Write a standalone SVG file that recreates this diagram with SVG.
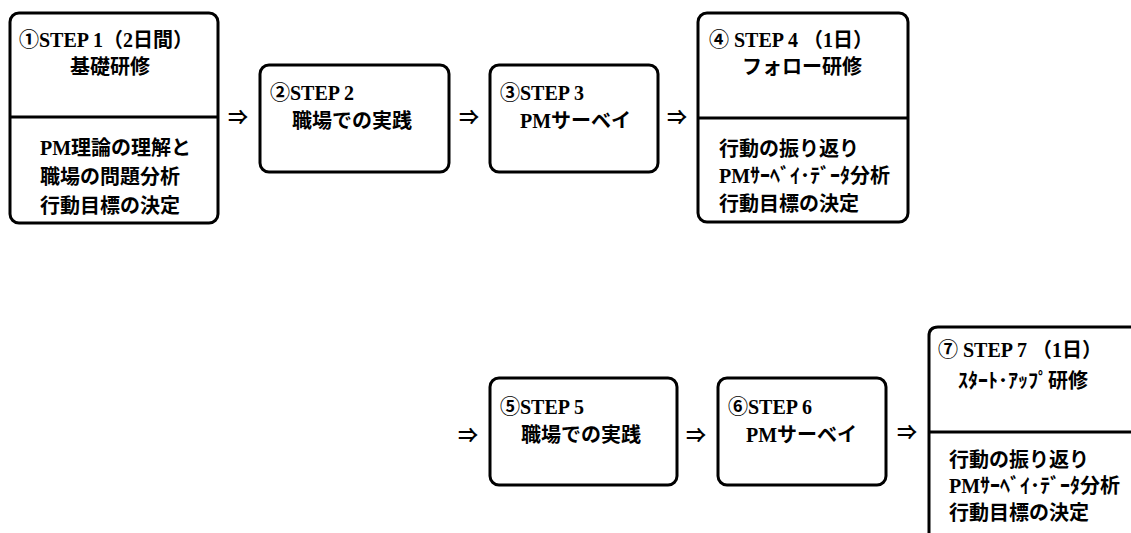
<svg xmlns="http://www.w3.org/2000/svg" width="1131" height="533" viewBox="0 0 1131 533">
<style>
.box{fill:none;stroke:#000;stroke-width:3}
.t{font-family:"Liberation Serif","Noto Sans CJK JP",serif;font-weight:bold;font-size:20px;fill:#000}
.a{font-family:"Noto Sans CJK JP",sans-serif;font-weight:bold;font-size:20px;fill:#000;text-anchor:middle}
</style>
<rect width="1131" height="533" fill="#fff"/>
<g id="step1">
<rect class="box" x="10" y="13" width="208" height="210" rx="9"/>
<line class="box" x1="10" y1="117" x2="218" y2="117"/>
<text class="t" x="19" y="47">①STEP 1（2日間）</text>
<text class="t" x="70" y="74">基礎研修</text>
<text class="t" x="40" y="155">PM理論の理解と</text>
<text class="t" x="40" y="184">職場の問題分析</text>
<text class="t" x="40" y="213">行動目標の決定</text>
</g>
<g id="step2">
<rect class="box" x="260" y="65" width="189" height="107" rx="9"/>
<text class="t" x="270" y="100">②STEP 2</text>
<text class="t" x="292" y="128">職場での実践</text>
</g>
<g id="step3">
<rect class="box" x="490" y="65" width="168" height="107" rx="9"/>
<text class="t" x="500" y="100">③STEP 3</text>
<text class="t" x="520" y="128">PMサーベイ</text>
</g>
<g id="step4">
<rect class="box" x="698" y="13" width="210" height="209" rx="9"/>
<line class="box" x1="698" y1="118" x2="908" y2="118"/>
<text class="t" x="709" y="47">④ STEP 4 （1日）</text>
<text class="t" x="742" y="74">フォロー研修</text>
<text class="t" x="719" y="156">行動の振り返り</text>
<text class="t" x="719" y="183">PMｻｰﾍﾞｲ･ﾃﾞｰﾀ分析</text>
<text class="t" x="719" y="211">行動目標の決定</text>
</g>
<g id="step5">
<rect class="box" x="490" y="378" width="187" height="107" rx="9"/>
<text class="t" x="500" y="414">⑤STEP 5</text>
<text class="t" x="521" y="442">職場での実践</text>
</g>
<g id="step6">
<rect class="box" x="718" y="378" width="168" height="107" rx="9"/>
<text class="t" x="728" y="414">⑥STEP 6</text>
<text class="t" x="746" y="442">PMサーベイ</text>
</g>
<g id="step7">
<path class="box" d="M1135 327 H938 Q929 327 929 336 V540"/>
<line class="box" x1="929" y1="432" x2="1135" y2="432"/>
<text class="t" x="938" y="357">⑦ STEP 7 （1日）</text>
<text class="t" x="958" y="388">ｽﾀｰﾄ･ｱｯﾌﾟ研修</text>
<text class="t" x="949" y="467">行動の振り返り</text>
<text class="t" x="949" y="493">PMｻｰﾍﾞｲ･ﾃﾞｰﾀ分析</text>
<text class="t" x="949" y="520">行動目標の決定</text>
</g>
<g id="connectors">
<text class="a" x="238" y="125">⇒</text>
<text class="a" x="469" y="125">⇒</text>
<text class="a" x="677" y="125">⇒</text>
<text class="a" x="468" y="443">⇒</text>
<text class="a" x="696" y="443">⇒</text>
<text class="a" x="907" y="440">⇒</text>
</g>
</svg>
